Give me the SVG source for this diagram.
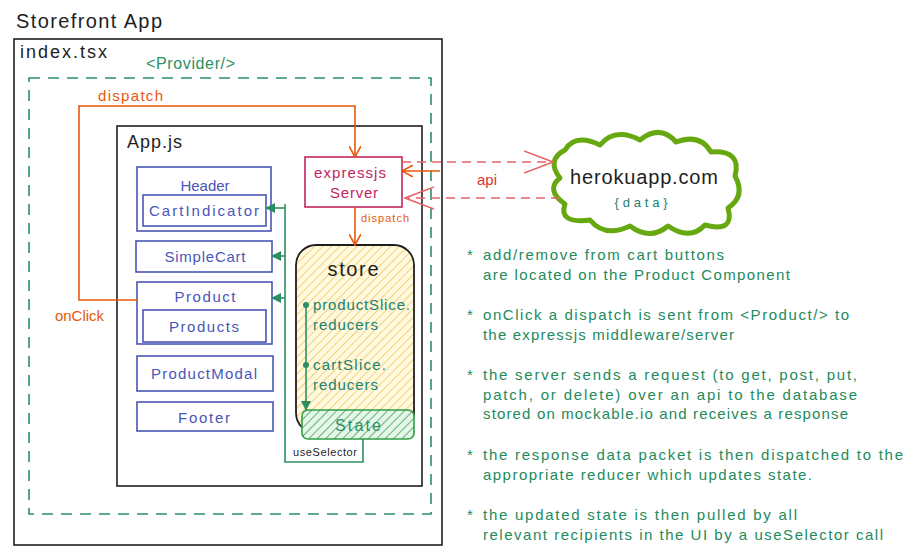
<svg xmlns="http://www.w3.org/2000/svg" width="918" height="553" viewBox="0 0 918 553">
<style>
text{font-family:"Liberation Sans",Arial,sans-serif}
.blk{fill:#1e1e1e}
.bx{fill:none;stroke:#4a56b8;stroke-width:1.6}
.bt{fill:#4a56b8;font-size:15px;text-anchor:middle}
.note{fill:#238a5c;font-size:15px}
.teal{fill:#1a8270;font-size:15px}
.or{stroke:#e8590c;stroke-width:1.6;fill:none}
.gr{stroke:#2b8f62;stroke-width:1.6;fill:none}
.rd{stroke:#e46464;stroke-width:1.6;fill:none;stroke-dasharray:9 6}
</style>
<defs>
<pattern id="hy" patternUnits="userSpaceOnUse" width="6" height="6" patternTransform="rotate(45)">
<rect width="6" height="6" fill="#fff9e0"/>
<line x1="0" y1="0" x2="0" y2="6" stroke="#f2c04c" stroke-width="1.4"/>
</pattern>
<pattern id="hg" patternUnits="userSpaceOnUse" width="6" height="6" patternTransform="rotate(45)">
<rect width="6" height="6" fill="#e6f7ea"/>
<line x1="0" y1="0" x2="0" y2="6" stroke="#40a060" stroke-width="1.6"/>
</pattern>
<marker id="ao" viewBox="0 0 12 12" refX="11" refY="6" markerWidth="12" markerHeight="12" markerUnits="userSpaceOnUse" orient="auto">
<path d="M0 0 L11 6 L0 12" fill="none" stroke="#e8590c" stroke-width="1.6"/>
</marker>
<marker id="ar" viewBox="0 0 30 24" refX="29" refY="12" markerWidth="30" markerHeight="24" markerUnits="userSpaceOnUse" orient="auto">
<path d="M0 1 L29 12 L0 23" fill="none" stroke="#e46464" stroke-width="1.6"/>
</marker>
<marker id="ag" viewBox="0 0 10 10" refX="9" refY="5" markerWidth="10" markerHeight="10" markerUnits="userSpaceOnUse" orient="auto">
<path d="M0 0 L10 5 L0 10 Z" fill="#2b8f62"/>
</marker>
</defs>
<rect width="918" height="553" fill="#ffffff"/>

<g id="title"><text x="16" y="28" class="blk" font-size="20" textLength="146">Storefront App</text></g>

<g id="index">
<rect x="14" y="39" width="428" height="506" fill="none" stroke="#1e1e1e" stroke-width="1.6"/>
<text x="20" y="58" class="blk" font-size="18" textLength="87">index.tsx</text>
</g>

<g id="provider">
<rect x="29" y="78" width="402" height="436" fill="none" stroke="#2b8f62" stroke-width="1.6" stroke-dasharray="11 8"/>
<text x="146" y="69" fill="#2b8f62" font-size="16" textLength="89">&lt;Provider/&gt;</text>
</g>

<g id="appjs">
<rect x="117" y="126" width="305" height="360" fill="none" stroke="#1e1e1e" stroke-width="1.6"/>
<text x="127" y="148" class="blk" font-size="18" textLength="55">App.js</text>
</g>

<g id="header">
<rect x="137" y="167" width="134" height="64" class="bx"/>
<text x="205" y="191" class="bt">Header</text>
</g>
<g id="cartindicator">
<rect x="143" y="195" width="123" height="31" class="bx"/>
<text x="204" y="216" class="bt" textLength="110">CartIndicator</text>
</g>
<g id="simplecart">
<rect x="136" y="241" width="136" height="31" class="bx"/>
<text x="205" y="262" class="bt" textLength="81">SimpleCart</text>
</g>
<g id="product">
<rect x="137" y="282" width="135" height="62" class="bx"/>
<text x="205" y="302" class="bt" textLength="61">Product</text>
</g>
<g id="products">
<rect x="143" y="310" width="123" height="32" class="bx"/>
<text x="204" y="332" class="bt" textLength="70">Products</text>
</g>
<g id="productmodal">
<rect x="137" y="356" width="136" height="35" class="bx"/>
<text x="204" y="379" class="bt" textLength="106">ProductModal</text>
</g>
<g id="footer">
<rect x="137" y="402" width="136" height="29" class="bx"/>
<text x="204" y="423" class="bt" textLength="52">Footer</text>
</g>

<g id="express">
<rect x="305" y="157" width="97" height="50" fill="#ffffff" stroke="#c2255c" stroke-width="1.6"/>
<text x="350" y="178" fill="#c2255c" font-size="15" text-anchor="middle" textLength="72">expressjs</text>
<text x="354" y="198" fill="#c2255c" font-size="15" text-anchor="middle" textLength="48">Server</text>
</g>

<g id="store">
<rect x="296" y="245" width="118" height="188" rx="20" fill="url(#hy)" stroke="#1e1e1e" stroke-width="1.8"/>
<text x="353" y="276" class="blk" font-size="20" text-anchor="middle" textLength="51">store</text>
<text x="313" y="310" class="teal" textLength="97">productSlice.</text>
<text x="313" y="330" class="teal" textLength="65">reducers</text>
<text x="313" y="370" class="teal" textLength="73">cartSlice.</text>
<text x="313" y="390" class="teal" textLength="65">reducers</text>
</g>

<g id="state">
<rect x="302" y="410" width="112" height="29" rx="6" fill="url(#hg)" stroke="#2f9e44" stroke-width="1.6"/>
<text x="358" y="431" fill="#2b8f62" font-size="16" text-anchor="middle" textLength="46">State</text>
</g>

<g id="heroku">
<path d="M565 150 Q575 133 600 145 Q615 127 640 140 Q660 124 676 142 Q700 133 711 152 Q742 150 735 176 Q746 196 728 208 Q735 233 705 225 Q690 241 668 226 Q650 241 630 226 Q605 238 590 220 Q558 224 565 204 Q545 190 560 178 Q546 160 565 150 Z" fill="#ffffff" stroke="#66a80f" stroke-width="5" stroke-linejoin="round"/>
<text x="644" y="184" class="blk" font-size="20" text-anchor="middle" textLength="148">herokuapp.com</text>
<text x="641" y="207" fill="#1a8270" font-size="13" text-anchor="middle" textLength="53">{data}</text>
</g>

<g id="connectors">
<polyline points="137,300 79,300 79,106 355,106 355,157" class="or" marker-end="url(#ao)"/>
<text x="98" y="101" fill="#e8590c" font-size="15" textLength="65">dispatch</text>
<text x="55" y="321" fill="#e8590c" font-size="15" textLength="49">onClick</text>
<line x1="355" y1="207" x2="355" y2="245" class="or" marker-end="url(#ao)"/>
<text x="361" y="222" fill="#e8590c" font-size="11" textLength="48">dispatch</text>
<line x1="440" y1="171" x2="402" y2="171" class="or" marker-end="url(#ao)"/>
<line x1="402" y1="162" x2="553" y2="162" class="rd" marker-end="url(#ar)"/>
<line x1="560" y1="198" x2="405" y2="198" class="rd" marker-end="url(#ar)"/>
<text x="477" y="185" fill="#e03131" font-size="15" textLength="20">api</text>
<polyline points="306,305 306,410" class="gr" marker-end="url(#ag)"/>
<circle cx="306" cy="305" r="3" fill="#2b8f62"/>
<circle cx="306" cy="365" r="3" fill="#2b8f62"/>
<polyline points="363,439 363,462 285,462 285,204" class="gr"/>
<line x1="285" y1="208" x2="266" y2="208" class="gr" marker-end="url(#ag)"/>
<line x1="285" y1="256" x2="272" y2="256" class="gr" marker-end="url(#ag)"/>
<line x1="285" y1="298" x2="272" y2="298" class="gr" marker-end="url(#ag)"/>
<text x="293" y="456" class="blk" font-size="11" textLength="64">useSelector</text>
</g>

<g id="notes">
<text x="467" y="260" class="note">*</text>
<text x="483" y="260" class="note" textLength="241">add/remove from cart buttons</text>
<text x="483" y="280" class="note" textLength="307">are located on the Product Component</text>
<text x="467" y="320" class="note">*</text>
<text x="483" y="320" class="note" textLength="366">onClick a dispatch is sent from &lt;Product/&gt; to</text>
<text x="483" y="340" class="note" textLength="251">the expressjs middleware/server</text>
<text x="467" y="380" class="note">*</text>
<text x="483" y="380" class="note" textLength="374">the server sends a request (to get, post, put,</text>
<text x="483" y="400" class="note" textLength="374">patch, or delete) over an api to the database</text>
<text x="483" y="419" class="note" textLength="365">stored on mockable.io and receives a response</text>
<text x="467" y="460" class="note">*</text>
<text x="483" y="460" class="note" textLength="420">the response data packet is then dispatched to the</text>
<text x="483" y="480" class="note" textLength="329">appropriate reducer which updates state.</text>
<text x="467" y="520" class="note">*</text>
<text x="483" y="520" class="note" textLength="314">the updated state is then pulled by all</text>
<text x="483" y="540" class="note" textLength="400">relevant recipients in the UI by a useSelector call</text>
</g>
</svg>
